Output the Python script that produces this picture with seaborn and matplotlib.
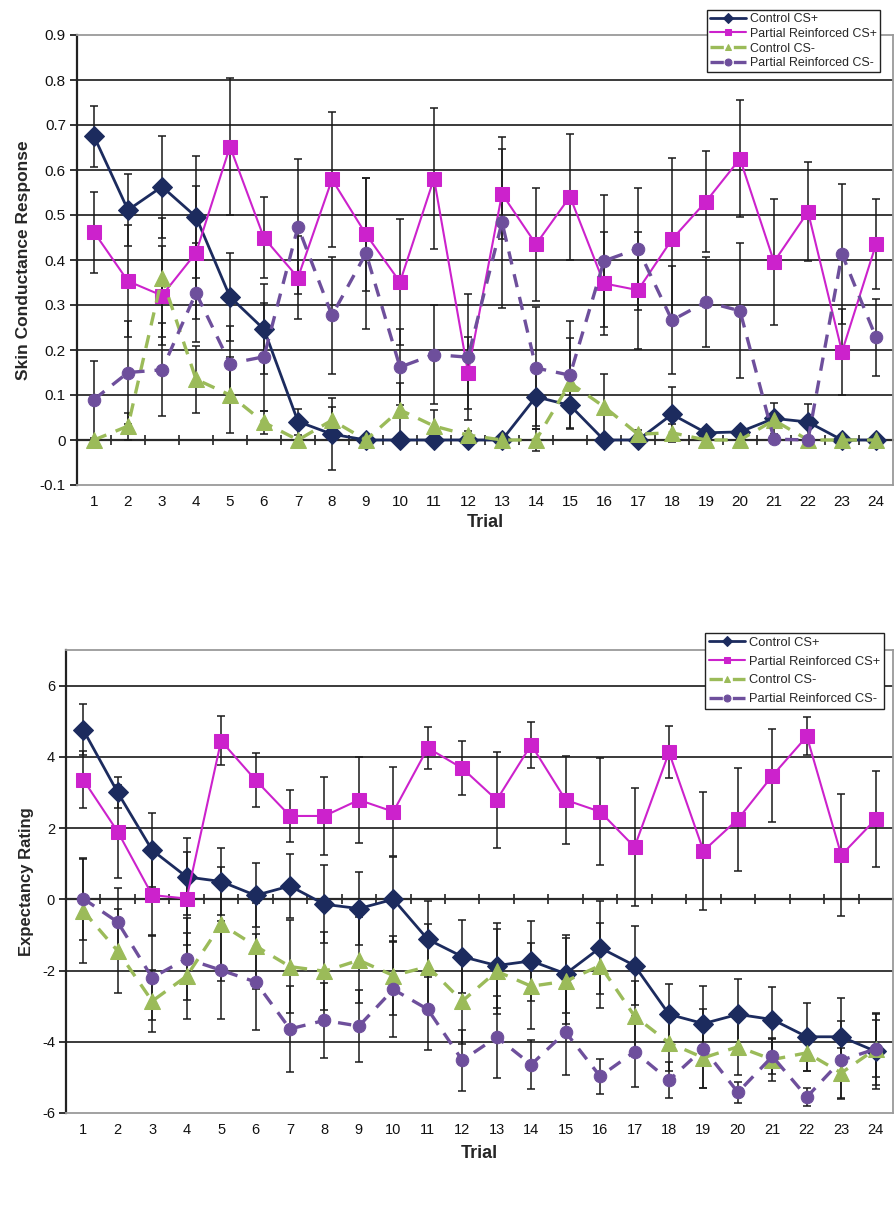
import numpy as np
import pandas as pd
import matplotlib
matplotlib.use("Agg")
import matplotlib.pyplot as plt
import seaborn as sns

# ---------------- data ----------------
trials = list(range(1, 25))
trial_labels = [str(t) for t in trials]
series_names = ["Control CS+", "Partial Reinforced CS+", "Control CS-", "Partial Reinforced CS-"]

# Skin conductance response (top panel)
scr_control_plus = [0.675, 0.511, 0.563, 0.496, 0.318, 0.246, 0.041, 0.013, 0.0, 0.0, 0.0, 0.0,
                    0.0, 0.096, 0.077, 0.0, 0.0, 0.057, 0.016, 0.018, 0.048, 0.040, 0.0, 0.0]
scr_control_plus_err = [0.068, 0.08, 0.113, 0.135, 0.098, 0.10, 0.029, 0.08, 0.0, 0.0, 0.0, 0.0,
                        0.0, 0.065, 0.01, 0.0, 0.0, 0.06, 0.01, 0.01, 0.035, 0.04, 0.0, 0.0]
scr_partial_plus = [0.462, 0.353, 0.321, 0.416, 0.652, 0.449, 0.361, 0.579, 0.457, 0.351, 0.581, 0.150,
                    0.547, 0.435, 0.541, 0.348, 0.333, 0.446, 0.530, 0.625, 0.396, 0.507, 0.196, 0.435]
scr_partial_plus_err = [0.09, 0.125, 0.11, 0.148, 0.153, 0.09, 0.093, 0.15, 0.126, 0.14, 0.157, 0.08,
                        0.10, 0.125, 0.14, 0.115, 0.13, 0.18, 0.112, 0.13, 0.14, 0.11, 0.096, 0.10]
scr_control_minus = [0.0, 0.031, 0.361, 0.135, 0.10, 0.039, 0.0, 0.044, 0.0, 0.067, 0.031, 0.011,
                     0.0, 0.0, 0.127, 0.074, 0.013, 0.016, 0.0, 0.0, 0.044, 0.0, 0.0, 0.0]
scr_control_minus_err = [0.0, 0.03, 0.133, 0.075, 0.085, 0.025, 0.0, 0.03, 0.0, 0.06, 0.035, 0.01,
                         0.0, 0.025, 0.10, 0.072, 0.01, 0.02, 0.0, 0.0, 0.01, 0.0, 0.0, 0.0]
scr_partial_minus = [0.09, 0.15, 0.156, 0.327, 0.17, 0.185, 0.474, 0.277, 0.415, 0.162, 0.19, 0.184,
                     0.484, 0.16, 0.144, 0.398, 0.425, 0.266, 0.307, 0.287, 0.002, 0.0, 0.413, 0.228]
scr_partial_minus_err = [0.085, 0.114, 0.103, 0.11, 0.083, 0.12, 0.15, 0.13, 0.168, 0.085, 0.11, 0.14,
                         0.19, 0.136, 0.12, 0.146, 0.136, 0.12, 0.10, 0.15, 0.0, 0.0, 0.155, 0.085]
scr_ticks = [-0.1, 0.0, 0.1, 0.2, 0.3, 0.4, 0.5, 0.6, 0.7, 0.8, 0.9]
scr_tick_labels = ["-0.1", "0", "0.1", "0.2", "0.3", "0.4", "0.5", "0.6", "0.7", "0.8", "0.9"]

# Expectancy rating (bottom panel)
exp_control_plus = [4.76, 3.0, 1.38, 0.63, 0.5, 0.11, 0.375, -0.14, -0.26, 0.0, -1.125, -1.61,
                    -1.86, -1.73, -2.09, -1.36, -1.86, -3.23, -3.49, -3.23, -3.375, -3.86, -3.86, -4.27]
exp_control_plus_err = [0.72, 0.44, 1.04, 1.08, 0.93, 0.9, 0.9, 1.1, 1.03, 1.2, 1.07, 1.02,
                        1.2, 1.12, 1.1, 1.3, 1.1, 0.85, 1.05, 1.0, 0.9, 0.95, 1.1, 1.05]
exp_partial_plus = [3.36, 1.9, 0.12, 0.02, 4.45, 3.35, 2.34, 2.34, 2.79, 2.46, 4.25, 3.68,
                    2.79, 4.34, 2.79, 2.46, 1.47, 4.125, 1.36, 2.25, 3.47, 4.575, 1.24, 2.25]
exp_partial_plus_err = [0.8, 1.3, 1.15, 1.3, 0.69, 0.75, 0.74, 1.1, 1.2, 1.25, 0.58, 0.76,
                        1.36, 0.65, 1.23, 1.5, 1.65, 0.73, 1.66, 1.45, 1.3, 0.53, 1.72, 1.35]
exp_control_minus = [-0.33, -1.45, -2.86, -2.16, -0.7, -1.31, -1.89, -2.02, -1.71, -2.14, -1.89, -2.86,
                     -2.02, -2.44, -2.3, -1.86, -3.28, -4.03, -4.45, -4.14, -4.5, -4.31, -4.875, -4.2]
exp_control_minus_err = [1.47, 1.17, 0.87, 1.2, 1.6, 1.2, 1.3, 1.1, 1.2, 1.1, 1.2, 1.2,
                         1.2, 1.2, 1.2, 1.2, 1.0, 0.8, 0.85, 0.8, 0.6, 0.5, 0.7, 0.8]
exp_partial_minus = [0.02, -0.64, -2.2, -1.67, -1.99, -2.32, -3.64, -3.4, -3.56, -2.53, -3.09, -4.52,
                     -3.87, -4.64, -3.73, -4.97, -4.28, -5.08, -4.19, -5.42, -4.41, -5.55, -4.52, -4.2]
exp_partial_minus_err = [1.15, 0.97, 1.2, 1.15, 1.37, 1.35, 1.2, 1.05, 1.0, 1.35, 1.15, 0.85,
                         1.15, 0.7, 1.2, 0.5, 1.0, 0.5, 1.1, 0.3, 0.5, 0.25, 1.1, 1.0]
exp_ticks = [-6, -4, -2, 0, 2, 4, 6]
exp_tick_labels = ["-6", "-4", "-2", "0", "2", "4", "6"]

# ---------------- style ----------------
sns.set_style("white")
plt.rcParams["font.family"] = ["Liberation Sans", "DejaVu Sans"]

colors = ["#1C2B5E", "#CC22CC", "#9BBB59", "#6E4F9C"]
markers = ["D", "s", "^", "o"]
msizes = [10, 10, 12, 9]
lwidths = [2.0, 1.5, 2.4, 2.4]
lstyles = ["-", "-", (0, (4, 3)), (0, (4, 3))]
err_color = "#1a1a1a"

W, H = 894, 1216
fig = plt.figure(figsize=(W / 100, H / 100), dpi=100)

ax1 = fig.add_axes([77 / W, 1 - 485 / H, (893 - 77) / W, 450 / H])
ax2 = fig.add_axes([66 / W, 1 - 1113 / H, (893 - 66) / W, (1113 - 650) / H])


def draw_panel(ax, ys, errs, ticks, tick_labels, ylim, ylabel, ylabel_size, ticksize, xlabelpad):
    for i, (name, y, e) in enumerate(zip(series_names, ys, errs)):
        ax.errorbar(trials, y, yerr=e, fmt="none", ecolor=err_color, elinewidth=1.1,
                    capsize=3.2, capthick=1.1, zorder=2)
    for i, (name, y) in enumerate(zip(series_names, ys)):
        df = pd.DataFrame({"Trial": trials, "value": y})
        sns.lineplot(data=df, x="Trial", y="value", ax=ax, color=colors[i],
                     marker=markers[i], markersize=msizes[i], markeredgecolor=colors[i],
                     linewidth=lwidths[i], linestyle=lstyles[i], label=name,
                     errorbar=None, zorder=3 + i)
    ax.set_xlim(0.5, 24.5)
    ax.set_ylim(*ylim)
    ax.set_xticks(trials)
    ax.set_xticklabels(trial_labels)
    ax.set_yticks(ticks)
    ax.set_yticklabels(tick_labels)
    ax.grid(axis="y", color="#2b2b2b", linewidth=1.3, zorder=0)
    ax.set_axisbelow(True)
    gls = ax.get_ygridlines()
    gls[0].set_visible(False)
    if ticks[-1] >= ylim[1]:
        gls[-1].set_visible(False)
    ax.tick_params(axis="x", length=0, pad=7, labelsize=ticksize, colors="#111")
    ax.tick_params(axis="y", length=5, width=1.2, direction="out", pad=3,
                   labelsize=ticksize, colors="#111", left=True)
    for s in ["top", "right", "bottom"]:
        ax.spines[s].set_color("#9a9a9a")
        ax.spines[s].set_linewidth(1.3)
    ax.spines["left"].set_color("#222")
    ax.spines["left"].set_linewidth(1.6)
    ax.set_xlabel("Trial", fontsize=13, fontweight="bold", labelpad=xlabelpad)
    ax.set_ylabel(ylabel, fontsize=ylabel_size, fontweight="bold", labelpad=6)
    # horizontal axis crossing at zero with category-boundary ticks
    sec = ax.secondary_xaxis(0, transform=ax.transData)
    sec.set_xticks([t + 0.5 for t in trials[:-1]])
    sec.set_xticklabels([])
    sec.tick_params(direction="inout", length=7, width=1.2, colors="#222")
    sec.spines["bottom"].set_color("#222")
    sec.spines["bottom"].set_linewidth(1.6)


draw_panel(ax1,
           [scr_control_plus, scr_partial_plus, scr_control_minus, scr_partial_minus],
           [scr_control_plus_err, scr_partial_plus_err, scr_control_minus_err, scr_partial_minus_err],
           scr_ticks, scr_tick_labels, (-0.1, 0.9), "Skin Conductance Response", 12.5, 11, 4)
draw_panel(ax2,
           [exp_control_plus, exp_partial_plus, exp_control_minus, exp_partial_minus],
           [exp_control_plus_err, exp_partial_plus_err, exp_control_minus_err, exp_partial_minus_err],
           exp_ticks, exp_tick_labels, (-6, 7), "Expectancy Rating", 12, 10.5, 6)

leg1 = ax1.legend(loc="upper left", bbox_to_anchor=(707 / W, 1 - 10 / H), bbox_transform=fig.transFigure,
                  fontsize=8.9, frameon=True, fancybox=False, edgecolor="#222", framealpha=1,
                  borderpad=0.25, labelspacing=0.22, handlelength=2.9, handletextpad=0.3,
                  borderaxespad=0)
leg1.get_frame().set_linewidth(1.0)
leg2 = ax2.legend(loc="upper left", bbox_to_anchor=(705 / W, 1 - 633 / H), bbox_transform=fig.transFigure,
                  fontsize=9.3, frameon=True, fancybox=False, edgecolor="#222", framealpha=1,
                  borderpad=0.3, labelspacing=0.52, handlelength=2.8, handletextpad=0.3,
                  borderaxespad=0)
leg2.get_frame().set_linewidth(1.0)
for leg in (leg1, leg2):
    for h in leg.get_lines():
        h.set_markersize(5)
    leg.set_zorder(20)

fig.savefig("out.png", dpi=100, facecolor="white")
